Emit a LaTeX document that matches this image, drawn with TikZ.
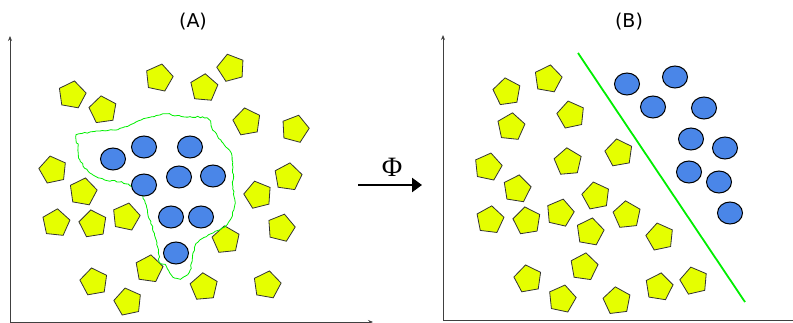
\documentclass[tikz,border=0pt]{standalone}
\usepackage{fontspec}
\setsansfont{DejaVu Sans}
\newfontfamily\timesf{Liberation Serif}
\usetikzlibrary{shapes.geometric,arrows.meta,decorations.pathmorphing}
\definecolor{pyellow}{HTML}{E5FF00}
\definecolor{pblue}{HTML}{4A86E8}
\definecolor{pgreen}{HTML}{00EE00}
\begin{document}
\begin{tikzpicture}[x=1pt,y=-1pt,
  pent/.style={regular polygon, regular polygon sides=5, minimum size=28.5pt, inner sep=0pt, fill=pyellow, draw=black!80, line width=0.8pt},
  dot/.style={ellipse, minimum width=25pt, minimum height=22pt, inner sep=0pt, fill=pblue, draw=black, line width=1pt},
  axis/.style={draw=black!75, line width=0.9pt, -{Stealth[length=5pt,width=4pt]}},
  lbl/.style={font=\sffamily\fontsize{19}{22}\selectfont}]
\pgfmathsetseed{7}
\useasboundingbox (0,0) rectangle (793,323);
% titles
\node[lbl] (tA) at (193,22) {(A)};
\node[lbl] (tB) at (629,22) {(B)};
% axes A
\coordinate (oA) at (10,322);
\coordinate (yA) at (10,36);
\coordinate (xA) at (373,322);
\draw[axis] (oA) -- (yA);
\draw[axis] (oA) -- (xA);
% axes B
\coordinate (oB) at (443,320);
\coordinate (yB) at (443,35);
\coordinate (xB) at (793,320);
\draw[axis] (oB) -- (yB);
\draw[draw=black!75, line width=0.9pt] (oB) -- (xB);
% map arrow
\coordinate (phiS) at (358,185);
\coordinate (phiE) at (422,185);
\draw[line width=2.4pt, -{Triangle[length=10pt,width=14pt]}] (phiS) -- (phiE);
\node[font=\timesf\fontsize{28}{30}\selectfont, inner sep=0pt] (phi) at (392,167) {Φ};
% pentagons A
\node[pent, rotate=-10] (a1) at (72,95) {};
\node[pent, rotate=8] (a2) at (103,110) {};
\node[pent, rotate=-12] (a3) at (159,78) {};
\node[pent, rotate=-5] (a4) at (204,88) {};
\node[pent, rotate=15] (a5) at (231,68) {};
\node[pent, rotate=10] (a6) at (247,122) {};
\node[pent, rotate=-15] (a7) at (295,129) {};
\node[pent, rotate=12] (a8) at (53,170) {};
\node[pent, rotate=-8] (a9) at (288,177) {};
\node[pent, rotate=-10] (a10) at (83,192) {};
\node[pent, rotate=14] (a11) at (258,195) {};
\node[pent, rotate=-6] (a12) at (56,223) {};
\node[pent, rotate=9] (a13) at (93,224) {};
\node[pent, rotate=-12] (a14) at (126,217) {};
\node[pent, rotate=6] (a15) at (226,240) {};
\node[pent, rotate=-14] (a16) at (281,228) {};
\node[pent, rotate=10] (a17) at (94,282) {};
\node[pent, rotate=-8] (a18) at (149,269) {};
\node[pent, rotate=5] (a19) at (204,287) {};
\node[pent, rotate=-10] (a20) at (267,285) {};
\node[pent, rotate=12] (a21) at (128,302) {};
% green region A
\draw[pgreen, line width=0.8pt, decorate, decoration={random steps, segment length=2.5pt, amplitude=0.7pt}]
  plot[smooth cycle, tension=0.5] coordinates {(77,135) (100,131) (115,130) (130,125) (147,118) (160,115) (167,114) (185,117) (207,118) (213,130) (223,143) (231,153) (233,167) (233,187) (235,203) (230,220) (222,228) (200,240) (193,253) (190,270) (182,278) (173,277) (166,266) (160,262) (157,243) (150,220) (143,197) (133,187) (120,182) (105,180) (90,173) (80,160) (78,147)};
% circles A
\node[dot] (c1) at (113,159) {};
\node[dot] (c2) at (144,147) {};
\node[dot] (c3) at (190,147) {};
\node[dot] (c4) at (144,185) {};
\node[dot] (c5) at (179,177) {};
\node[dot] (c6) at (213,176) {};
\node[dot] (c7) at (171,217) {};
\node[dot] (c8) at (201,217) {};
\node[dot] (c9) at (176,253) {};
% pentagons B
\node[pent, rotate=8] (b1) at (507,92) {};
\node[pent, rotate=-10] (b2) at (548,79) {};
\node[pent, rotate=12] (b3) at (571,115) {};
\node[pent, rotate=-6] (b4) at (511,127) {};
\node[pent, rotate=10] (b5) at (619,153) {};
\node[pent, rotate=-12] (b6) at (488,167) {};
\node[pent, rotate=5] (b7) at (568,162) {};
\node[pent, rotate=-9] (b8) at (517,189) {};
\node[pent, rotate=11] (b9) at (596,196) {};
\node[pent, rotate=-7] (b10) at (490,220) {};
\node[pent, rotate=9] (b11) at (527,221) {};
\node[pent, rotate=-13] (b12) at (560,213) {};
\node[pent, rotate=6] (b13) at (627,215) {};
\node[pent, rotate=-10] (b14) at (590,232) {};
\node[pent, rotate=12] (b15) at (660,237) {};
\node[pent, rotate=-8] (b16) at (584,267) {};
\node[pent, rotate=10] (b17) at (528,279) {};
\node[pent, rotate=-12] (b18) at (562,299) {};
\node[pent, rotate=7] (b19) at (617,301) {};
\node[pent, rotate=-9] (b20) at (659,287) {};
\node[pent, rotate=13] (b21) at (694,281) {};
% separating line B
\coordinate (sTop) at (578,53);
\coordinate (sBot) at (745,302);
\draw[pgreen, line width=1.8pt] (sTop) -- (sBot);
% circles B
\node[dot] (d1) at (627,84) {};
\node[dot] (d2) at (675,77) {};
\node[dot] (d3) at (653,107) {};
\node[dot] (d4) at (704,108) {};
\node[dot] (d5) at (691,139) {};
\node[dot] (d6) at (725,148) {};
\node[dot] (d7) at (689,172) {};
\node[dot] (d8) at (719,182) {};
\node[dot] (d9) at (730,213) {};
\end{tikzpicture}
\end{document}
